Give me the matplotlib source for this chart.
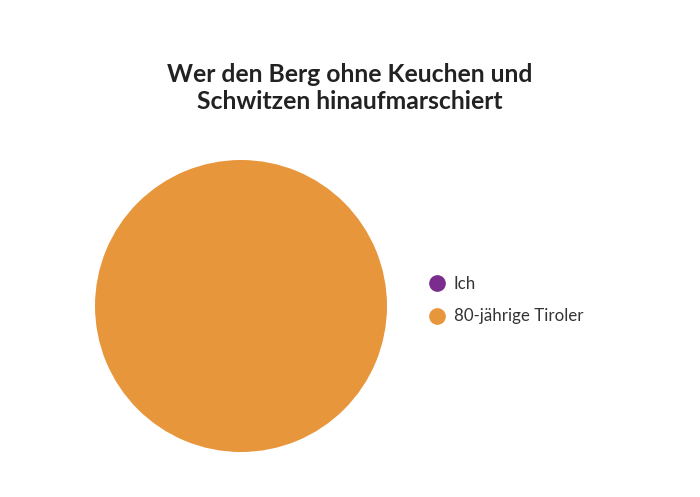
import matplotlib.pyplot as plt
from matplotlib.lines import Line2D

plt.rcParams['font.family'] = ['Lato', 'DejaVu Sans']

labels = ["Ich", "80-jährige Tiroler"]
values = [0, 100]
colors = ["#7B2D8E", "#E8963C"]
title = "Wer den Berg ohne Keuchen und\nSchwitzen hinaufmarschiert"

W, H = 700, 497
fig = plt.figure(figsize=(W / 100, H / 100), dpi=100)

# pie area in pixels: left 95, top 160, size 292
ax = fig.add_axes([95 / W, (H - 452) / H, 292 / W, 292 / H])
ax.pie(values, colors=colors, startangle=90, counterclock=False,
       radius=1, wedgeprops=dict(linewidth=0))
ax.set_xlim(-1, 1)
ax.set_ylim(-1, 1)
ax.set_aspect('equal')

fig.text(350 / W, 1 - 88 / H, title, ha='center', va='center',
         fontsize=17.8, fontweight='bold', color='#222222', linespacing=1.25)

handles = [Line2D([], [], marker='o', linestyle='', markersize=11,
                  markerfacecolor=c, markeredgecolor=c) for c in colors]
fig.legend(handles, labels, loc='center left',
           bbox_to_anchor=(412 / W, 1 - 300 / H), frameon=False,
           fontsize=12.2, handletextpad=0.35, labelspacing=1.0,
           labelcolor='#333333', handlelength=1.2)

fig.savefig("out.png", dpi=100)
